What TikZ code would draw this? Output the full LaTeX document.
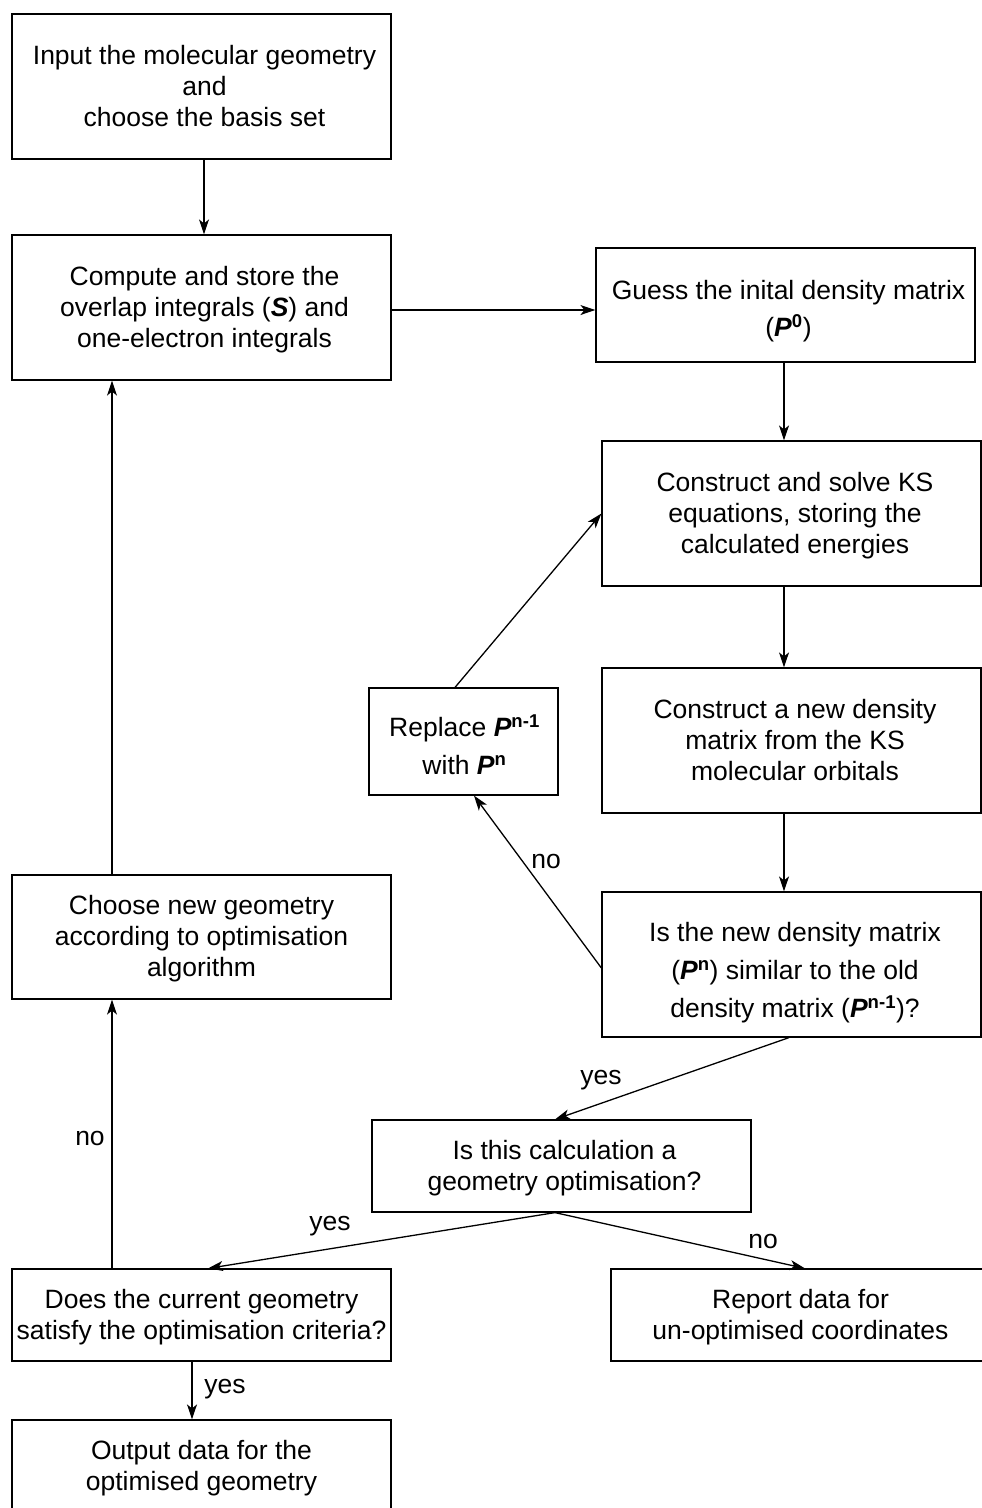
\documentclass[tikz,border=0pt]{standalone}
\usepackage{fontspec}
\setmainfont{Liberation Sans}
\usetikzlibrary{arrows.meta}
\newcommand\PP[1]{\textbf{\textit{P}}\textsuperscript{\textbf{#1}}}
\newcommand\TY[3]{\hspace*{#1}\raisebox{#2}[\height][\depth]{\begin{tabular}{@{}c@{}}#3\end{tabular}}}
\newcommand\TX[2][6pt]{\TY{#1}{-2.5pt}{#2}}
\begin{document}
\begin{tikzpicture}[x=1pt,y=-1pt,
  box/.style={draw,line width=1.2pt,inner sep=0pt,
    font=\fontsize{26.5}{31}\selectfont},
  lbl/.style={font=\fontsize{26.5}{31}\selectfont,inner sep=0pt},
  arr/.style={line width=1.3pt,-{Stealth[length=15pt,width=10pt,inset=4pt]}}]
\useasboundingbox (0,0) rectangle (982,1508);
\node[box,minimum width=379pt,minimum height=145pt] (B1) at (201.5,86.5)
  {\TX{Input the molecular geometry\\and\\choose the basis set}};
\node[box,minimum width=379pt,minimum height=145pt] (B2) at (201.5,307.5)
  {\TX{Compute and store the\\overlap integrals (\textbf{\textit{S}}) and\\one-electron integrals}};
\node[box,minimum width=379pt,minimum height=114pt] (B3) at (785.5,305)
  {\TY{6pt}{-6.5pt}{Guess the inital density matrix\\[6pt](\PP{0})}};
\node[box,minimum width=379pt,minimum height=145pt] (B4) at (791.5,513.5)
  {\TX[7pt]{Construct and solve KS\\equations, storing the\\calculated energies}};
\node[box,minimum width=379pt,minimum height=145pt] (B5) at (791.5,740.5)
  {\TX[7pt]{Construct a new density\\matrix from the KS\\molecular orbitals}};
\node[box,minimum width=189pt,minimum height=107pt] (B6) at (463.5,741.5)
  {\TY{2pt}{-7.5pt}{Replace \PP{n-1}\\[7pt]with \PP{n}}};
\node[box,minimum width=379pt,minimum height=145pt] (B7) at (791.5,964.5)
  {\TY{7pt}{-8.5pt}{Is the new density matrix\\[7pt](\PP{n}) similar to the old\\[7pt]density matrix (\PP{n-1})?}};
\node[box,minimum width=379pt,minimum height=124pt] (B8) at (201.5,937)
  {\TX[0pt]{Choose new geometry\\according to optimisation\\algorithm}};
\node[box,minimum width=379pt,minimum height=92pt] (B9) at (561.5,1166)
  {\TX{Is this calculation a\\geometry optimisation?}};
\node[box,minimum width=379pt,minimum height=92pt] (B10) at (201.5,1315)
  {\TX[0pt]{Does the current geometry\\satisfy the optimisation criteria?}};
\node[box,minimum width=379pt,minimum height=92pt] (B11) at (800.5,1315)
  {\TX[0pt]{Report data for\\un-optimised coordinates}};
\node[box,minimum width=379pt,minimum height=92pt] (B12) at (201.5,1466)
  {\TX[0pt]{Output data for the\\optimised geometry}};
% labels
\node[lbl] (Lno1) at (546,861) {no};
\node[lbl] (Lyes1) at (601,1080) {yes};
\node[lbl] (Lyes2) at (330,1226) {yes};
\node[lbl] (Lno2) at (763,1241) {no};
\node[lbl] (Lno3) at (90,1138) {no};
\node[lbl] (Lyes3) at (225,1389) {yes};
% connectors
\coordinate (c23) at ([yshift=-2.5pt]B2.east);
\draw[arr] ([xshift=2.5pt]B1.south) -- ([xshift=2.5pt]B2.north);
\draw[arr] (c23) -- (B3.west |- c23);
\draw[arr] ([xshift=-1.5pt]B3.south) -- ([xshift=-7.5pt]B4.north);
\draw[arr] ([xshift=-7.5pt]B4.south) -- ([xshift=-7.5pt]B5.north);
\draw[arr] ([xshift=-7.5pt]B5.south) -- ([xshift=-7.5pt]B7.north);
\draw[arr] ([yshift=-3.5pt]B7.west) -- ([xshift=10.5pt]B6.south);
\draw[arr] ([xshift=-8.5pt]B6.north) -- (B4.west);
\draw[arr] ([xshift=-2.5pt]B7.south) -- ([xshift=-6.5pt]B9.north);
\draw[arr] ([xshift=-6.5pt]B9.south) -- ([xshift=6.5pt]B10.north);
\draw[arr] ([xshift=-6.5pt]B9.south) -- ([xshift=4.5pt]B11.north);
\draw[arr] ([xshift=-89.5pt]B10.north) -- ([xshift=-89.5pt]B8.south);
\draw[arr] ([xshift=-89.5pt]B8.north) -- ([xshift=-89.5pt]B2.south);
\draw[arr] ([xshift=-9.5pt]B10.south) -- ([xshift=-9.5pt]B12.north);
\end{tikzpicture}
\end{document}
